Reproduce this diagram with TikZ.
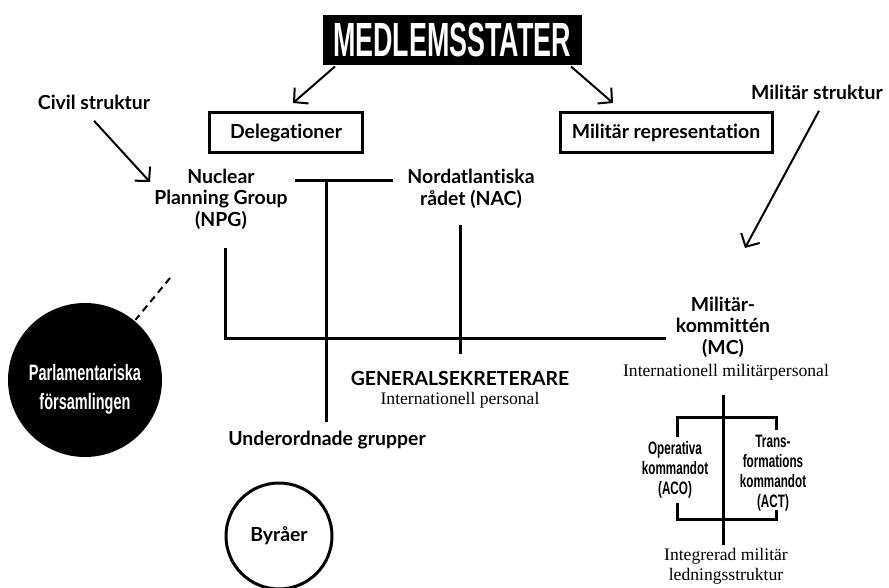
\documentclass[tikz,border=0pt]{standalone}
\usepackage{fontspec}
\setmainfont{Lato}[Ligatures=NoCommon]
\newfontfamily\seriffont{Liberation Serif}
\newfontfamily\condfont[FakeStretch=0.56]{Liberation Sans}
\newfontfamily\condfontb[FakeStretch=0.65]{Liberation Sans}
\usetikzlibrary{arrows.meta}

\begin{document}
\begin{tikzpicture}[x=1pt,y=-1pt,line width=3pt,
		txt/.style={font=\bfseries\fontsize{19.4}{21.5}\selectfont,align=center,inner sep=0pt},
		sub/.style={font=\seriffont\fontsize{17.6}{20}\selectfont,align=center,inner sep=0pt},
		cond/.style={font=\condfontb\bfseries\fontsize{18}{20}\selectfont,align=center,inner sep=0pt},
		repbox/.style={txt,draw,line width=3pt,minimum height=40pt},
		pil/.style={line width=2pt,-{Straight Barb[length=10pt,width=21pt]}}]
	\useasboundingbox (0,0) rectangle (889,588);
	
	% medlemsstater och representation
	\node[fill=black,text=white,inner sep=0pt,minimum width=259pt,minimum height=50pt,
		font=\condfont\bfseries\fontsize{48}{48}\selectfont] (stater) at (452,40) {MEDLEMSSTATER};
	\node[repbox,minimum width=153pt] (deleg) at (286,133) {Delegationer};
	\node[repbox,minimum width=212pt] (milrep) at (666,133) {Militär representation};
	\coordinate (delegpil) at (293,103);
	\coordinate (milreppil) at (613,103);
	\draw[pil] ([xshift=14pt]stater.south west) -- (delegpil);
	\draw[pil] ([xshift=-12pt]stater.south east) -- (milreppil);
	
	% strukturer
	\node[txt] (civil) at (94,102) {Civil struktur};
	\node[txt] (militar) at (817,92) {Militär struktur};
	\coordinate (civilpil) at (150,182);
	\coordinate (milpil) at (745,248);
	\draw[pil] ([yshift=-10pt]civil.south) -- (civilpil);
	\draw[pil] ([yshift=-10pt,xshift=2pt]militar.south) -- (milpil);
	
	% civila organ
	\node[txt] (npg) at (221,199) {Nuclear\\Planning Group\\(NPG)};
	\node[txt] (nac) at (471,189) {Nordatlantiska\\rådet (NAC)};
	\node[txt] (gs) at (460,378) {GENERALSEKRETERARE};
	\node[sub] (gsp) at (460,400) {Internationell personal};
	\node[txt] (ug) at (327,440) {Underordnade grupper};
	
	\coordinate (tl) at (295,181);
	\coordinate (tr) at (393,181);
	\coordinate (tt) at (326,181);
	\coordinate (tb) at (326,422);
	\draw (tl) -- (tr);
	\draw (tt) -- (tb);
	\coordinate (nact) at (460,225);
	\coordinate (nacb) at (460,354);
	\draw (nact) -- (nacb);
	\coordinate (npgb) at (225,248);
	\coordinate (mcl) at (666,338);
	\draw (npgb) |- (mcl);
	
	% militära organ
	\node[txt] (mc) at (723,327) {Militär-\\kommittén\\(MC)};
	\node[sub] (mcp) at (726,372) {Internationell militärpersonal};
	\coordinate (mct) at (723,395);
	\coordinate (mcb) at (723,545);
	\draw (mct) -- (mcb);
	\draw (677,437) |- (776,417) -- (776,430);
	\draw (677,503) |- (776,519) -- (776,510);
	\node[cond] (aco) at (675,470) {Operativa\\kommandot\\(ACO)};
	\node[cond] (act) at (773,473) {Trans-\\formations\\kommandot\\(ACT)};
	\node[sub] (ims) at (726,566) {Integrerad militär\\ledningsstruktur};
	
	% övrigt
	\node[circle,fill=black,text=white,minimum size=154pt,inner sep=0pt] (parl) at (85,380) {};
	\node[cond,text=white,font=\condfontb\bfseries\fontsize{22.3}{29}\selectfont] (parltxt) at (85,389) {Parlamentariska\\församlingen};
	\coordinate (parlt) at (170,278);
	\draw[line width=2pt,dash pattern=on 7pt off 5pt] (parlt) -- (parl.50);
	\node[txt,circle,draw,minimum size=106pt] (byra) at (279,536) {Byråer};
\end{tikzpicture}
\end{document}
